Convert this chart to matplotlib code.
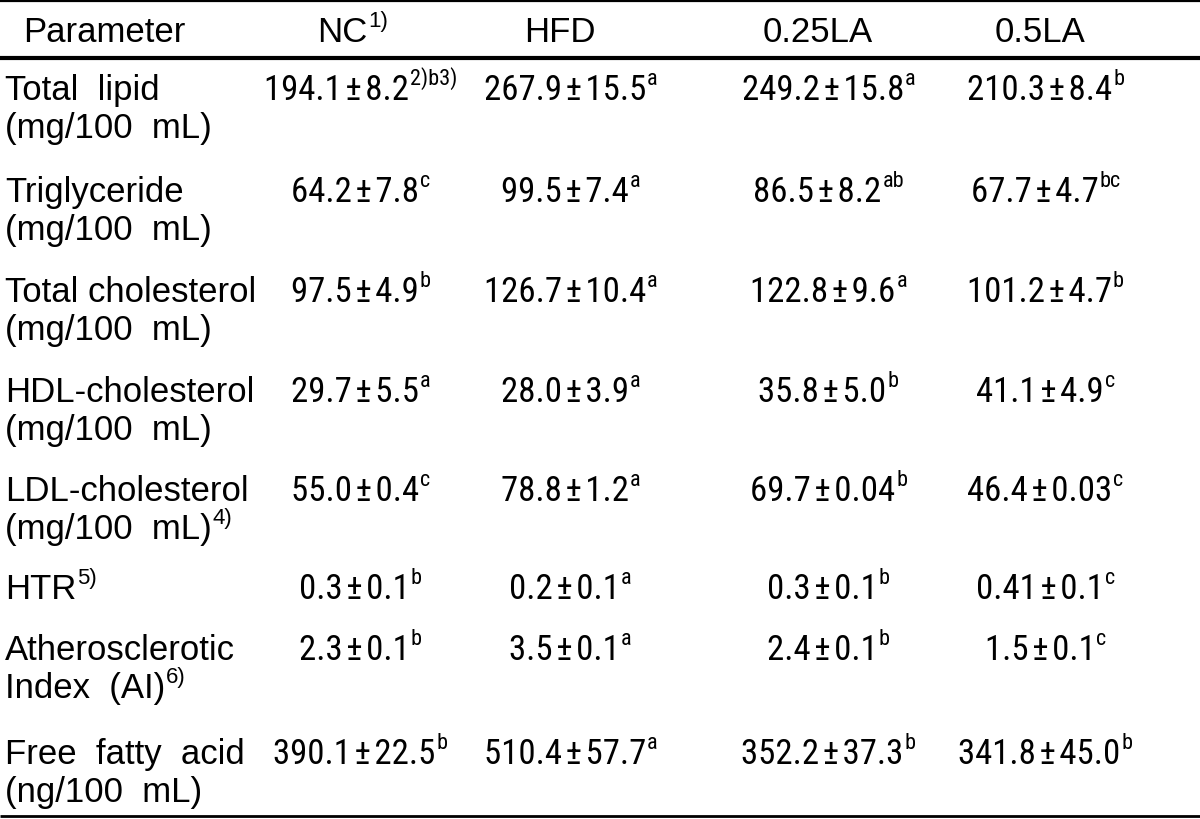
import matplotlib
matplotlib.use("Agg")
import matplotlib.pyplot as plt

plt.rcParams["font.family"] = ["Liberation Sans", "DejaVu Sans"]

# Table contents
groups = ["NC", "HFD", "0.25LA", "0.5LA"]
group_notes = ["1)", "", "", ""]

param_line1 = ["Total  lipid", "Triglyceride", "Total cholesterol", "HDL-cholesterol",
               "LDL-cholesterol", "HTR", "Atherosclerotic", "Free  fatty  acid"]
param_line1_notes = ["", "", "", "", "", "5)", "", ""]
param_line2 = ["(mg/100  mL)", "(mg/100  mL)", "(mg/100  mL)", "(mg/100  mL)",
               "(mg/100  mL)", "", "Index  (AI)", "(ng/100  mL)"]
param_line2_notes = ["", "", "", "", "4)", "", "6)", ""]

nc_mean = ["194.1", "64.2", "97.5", "29.7", "55.0", "0.3", "2.3", "390.1"]
nc_sd = ["8.2", "7.8", "4.9", "5.5", "0.4", "0.1", "0.1", "22.5"]
nc_sig = ["2)b3)", "c", "b", "a", "c", "b", "b", "b"]

hfd_mean = ["267.9", "99.5", "126.7", "28.0", "78.8", "0.2", "3.5", "510.4"]
hfd_sd = ["15.5", "7.4", "10.4", "3.9", "1.2", "0.1", "0.1", "57.7"]
hfd_sig = ["a", "a", "a", "a", "a", "a", "a", "a"]

la025_mean = ["249.2", "86.5", "122.8", "35.8", "69.7", "0.3", "2.4", "352.2"]
la025_sd = ["15.8", "8.2", "9.6", "5.0", "0.04", "0.1", "0.1", "37.3"]
la025_sig = ["a", "ab", "a", "b", "b", "b", "b", "b"]

la05_mean = ["210.3", "67.7", "101.2", "41.1", "46.4", "0.41", "1.5", "341.8"]
la05_sd = ["8.4", "4.7", "4.7", "4.9", "0.03", "0.1", "0.1", "45.0"]
la05_sig = ["b", "bc", "b", "c", "c", "c", "c", "b"]

# Layout (pixels)
FS = 25
FS_SUP = 16
NARROW = ["Roboto Condensed", "Liberation Sans", "DejaVu Sans"]
col_x = [360, 570, 828, 1045]
head_x = [352, 560, 818, 1040]
param_x = 5
header_y = 30
row_y = [88, 190, 290, 390, 489, 587, 648, 752]
line_gap = 38

fig = plt.figure(figsize=(12, 8.2), dpi=100)
ax = fig.add_axes([0, 0, 1, 1])
ax.set_xlim(0, 1200)
ax.set_ylim(820, 0)
ax.axis("off")
fig.canvas.draw()
renderer = fig.canvas.get_renderer()


def put(x, y, main, sup="", align="center", family=None, size=FS):
    base = y + 12
    kw = {"family": family} if family else {}
    t = ax.text(0, base, main, fontsize=size, va="baseline", ha="left", **kw)
    w = t.get_window_extent(renderer).width
    s = None
    ws = 0
    if sup:
        s = ax.text(0, base - 15, sup, fontsize=FS_SUP, va="baseline", ha="left", **kw)
        ws = s.get_window_extent(renderer).width
    x0 = x - (w + ws) / 2 if align == "center" else x
    t.set_x(x0)
    if s is not None:
        s.set_x(x0 + w + 1)


# header
put(104, header_y, "Parameter")
for hx, g, n in zip(head_x, groups, group_notes):
    put(hx, header_y, g, n)

# rules
ax.plot([0, 1200], [2, 2], color="black", lw=1.6, solid_capstyle="butt")
ax.plot([0, 1200], [59, 59], color="black", lw=3.0, solid_capstyle="butt")
ax.plot([0, 1200], [817, 817], color="black", lw=2.0, solid_capstyle="butt")

# body
columns = [(nc_mean, nc_sd, nc_sig), (hfd_mean, hfd_sd, hfd_sig),
           (la025_mean, la025_sd, la025_sig), (la05_mean, la05_sd, la05_sig)]
for i, y in enumerate(row_y):
    put(param_x, y, param_line1[i], param_line1_notes[i], align="left")
    if param_line2[i]:
        put(param_x, y + line_gap, param_line2[i], param_line2_notes[i], align="left")
    for gx, (m, sd, sig) in zip(col_x, columns):
        put(gx, y, f"{m[i]}\u200a\u00b1\u200a{sd[i]}", sig[i], family=NARROW, size=25)

fig.savefig("out.png", dpi=100)
